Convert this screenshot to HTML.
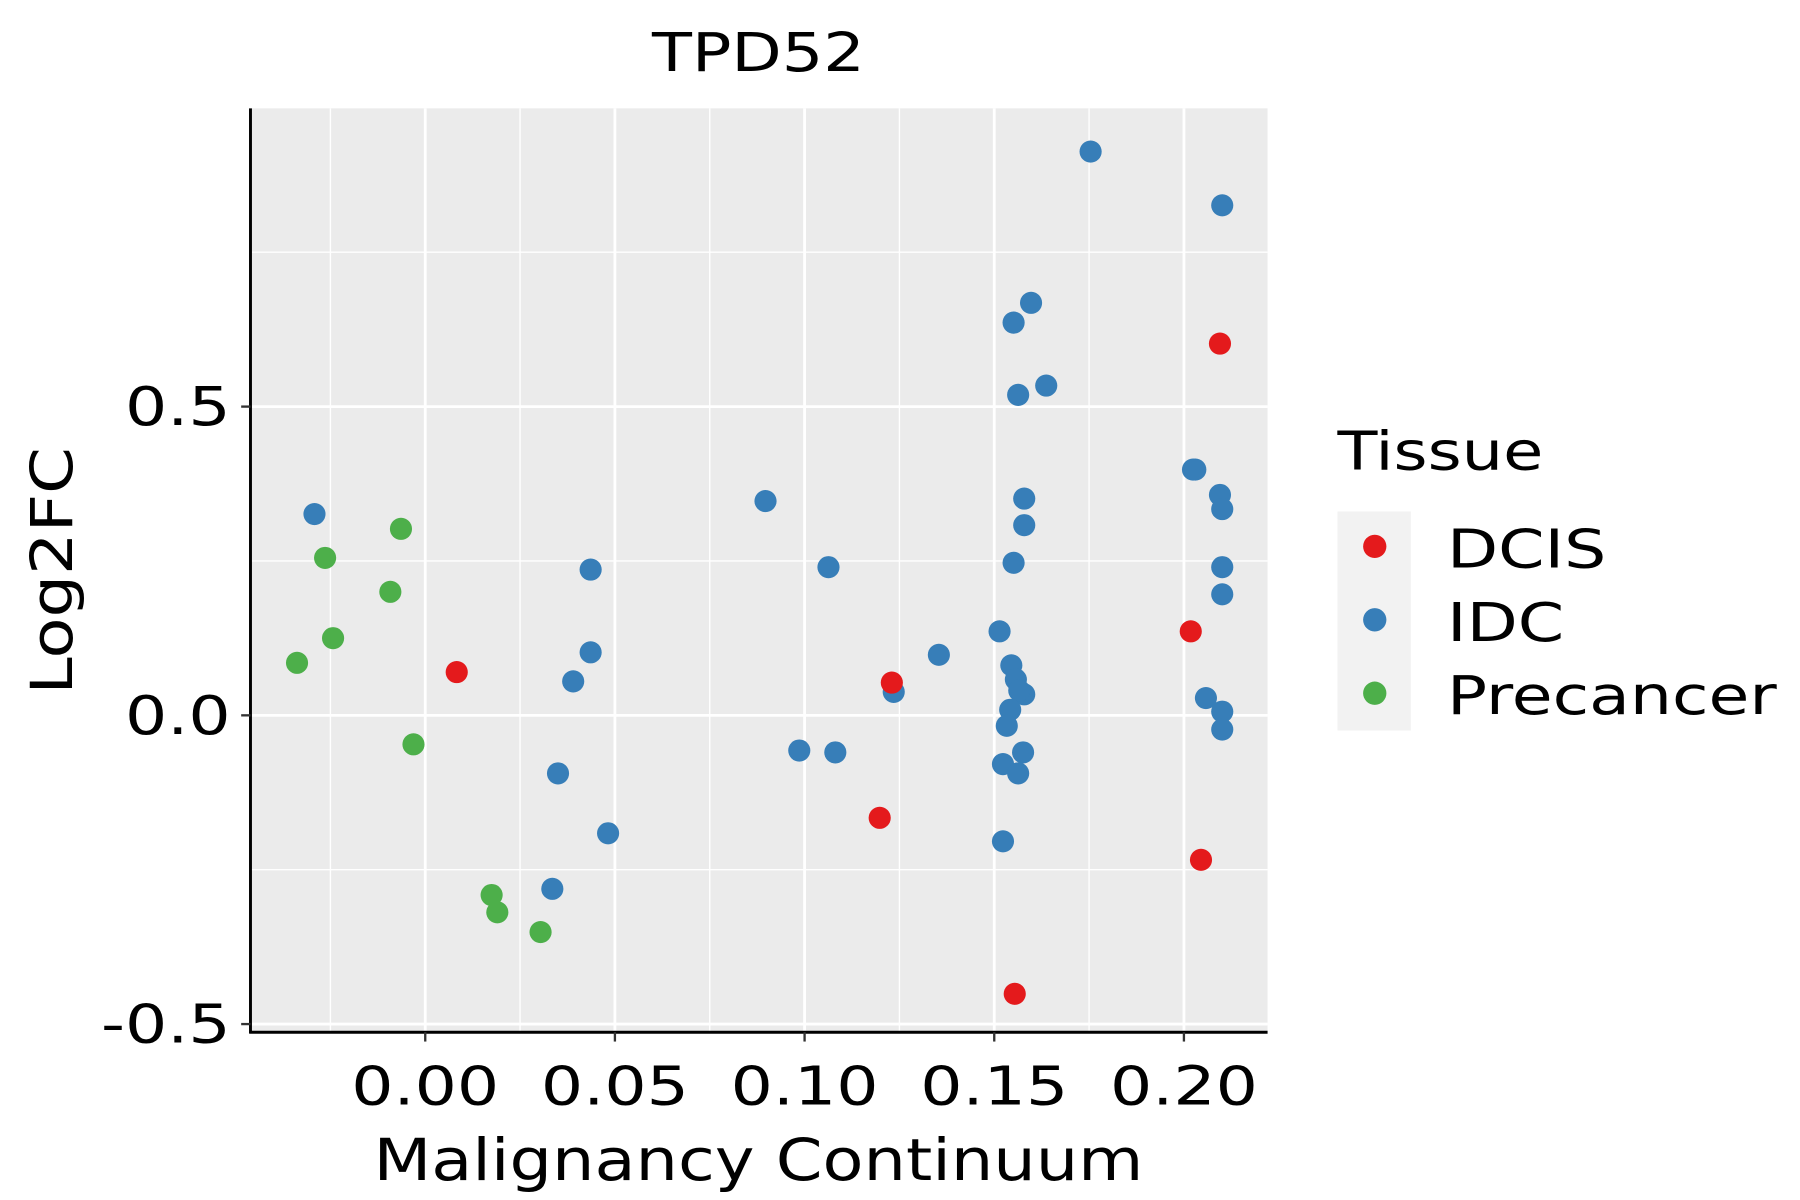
<!DOCTYPE html>
<html><head><meta charset="utf-8"><style>
html,body{margin:0;padding:0;background:#fff;}
svg{display:block;font-family:"DejaVu Sans","Liberation Sans",sans-serif;}
</style></head><body>
<svg id="chart" width="1800" height="1200" viewBox="0 0 1545 1030" preserveAspectRatio="none">
<rect x="0" y="0" width="1545" height="1030" fill="#fff"/>
<rect x="215" y="93" width="873" height="793" fill="#ebebeb"/>
<g id="grid"></g>
<g id="points"></g>
<line x1="215" y1="93" x2="215" y2="887" stroke="#000" stroke-width="2.5"/>
<line x1="214" y1="886" x2="1088" y2="886" stroke="#000" stroke-width="2.5"/>
<g id="ticks"></g>
<text transform="translate(651,61) scale(1.22,1)" font-size="46" text-anchor="middle">TPD52</text>
<text transform="translate(651,1013) scale(1.15,1)" font-size="50" text-anchor="middle">Malignancy Continuum</text>
<text transform="translate(62,490) rotate(-90) scale(1.15,1)" font-size="50" text-anchor="middle">Log2FC</text>
<g>
<text transform="translate(1148,403) scale(1.22,1)" font-size="46">Tissue</text>
<rect x="1148" y="439" width="63" height="188" fill="#f2f2f2"/>
<g id="legend-entries"></g>
</g>
</svg>
<script>
const xTicks=[0,0.05,0.10,0.15,0.20];
const xTickLabels=["0.00","0.05","0.10","0.15","0.20"];
const yTicks=[-0.5,0,0.5];
const yTickLabels=["-0.5","0.0","0.5"];
const groups=["DCIS","IDC","Precancer"];
const colors=["#e41a1c","#377eb8","#4daf4a"];
const dcisX=[0.0083,0.123,0.1198,0.2095,0.2018,0.2045,0.1554];
const dcisY=[0.070,0.053,-0.166,0.602,0.136,-0.234,-0.451];
const preX=[-0.0338,-0.0264,-0.0243,-0.0092,-0.0064,-0.0031,0.0175,0.0190,0.0304];
const preY=[0.085,0.255,0.125,0.200,0.302,-0.047,-0.291,-0.319,-0.351];
const idcX=[-0.0292,0.0436,0.0436,0.039,0.035,0.0482,0.0335,0.0897,0.1063,0.0986,0.1081,0.1235,0.1354,0.1754,0.2101,0.1597,0.1551,0.1637,0.1563,0.2024,0.203,0.1579,0.1579,0.1551,0.1514,0.1545,0.1557,0.1579,0.1566,0.1542,0.1533,0.1523,0.1576,0.1563,0.1523,0.2095,0.2101,0.2101,0.2101,0.2058,0.2101,0.2101];
const idcY=[0.326,0.236,0.102,0.055,-0.094,-0.191,-0.281,0.347,0.240,-0.057,-0.060,0.038,0.098,0.913,0.826,0.668,0.636,0.534,0.519,0.398,0.398,0.351,0.308,0.247,0.136,0.081,0.058,0.034,0.040,0.009,-0.017,-0.079,-0.060,-0.094,-0.204,0.357,0.334,0.240,0.196,0.028,0.006,-0.023];

const NS="http://www.w3.org/2000/svg";
function sx(v){return 365+v*3256;}
function sy(v){return 614-v*530;}
function mk(tag,attrs,parent){const e=document.createElementNS(NS,tag);for(const k in attrs)e.setAttribute(k,attrs[k]);parent.appendChild(e);return e;}
const grid=document.getElementById('grid'),ticks=document.getElementById('ticks');
for(let i=0;i<xTicks.length;i++){
  const m=xTicks[i]-0.025;
  const l=mk('line',{x1:sx(m),x2:sx(m),y1:93,y2:886,stroke:'#fff','stroke-width':1.2},grid);
  
  
}
for(let i=0;i<yTicks.length;i++){
  const m=yTicks[i]+0.25;
  const l=mk('line',{x1:215,x2:1088,y1:sy(m),y2:sy(m),stroke:'#fff','stroke-width':1.2},grid);
  
  
}
xTicks.forEach((t,i)=>{
  const l=mk('line',{x1:sx(t),x2:sx(t),y1:93,y2:886,stroke:'#fff','stroke-width':2.4},grid);
  
  
  const tk=mk('line',{x1:sx(t),x2:sx(t),y1:886,y2:894,stroke:'#333','stroke-width':2},ticks);
  
  
  const tx=mk('text',{transform:'translate('+sx(t)+',948) scale(1.24,1)','font-size':46,'text-anchor':'middle'},ticks);
  tx.textContent=xTickLabels[i];
  
  
});
yTicks.forEach((t,i)=>{
  const l=mk('line',{x1:215,x2:1088,y1:sy(t),y2:sy(t),stroke:'#fff','stroke-width':2.4},grid);
  
  
  const tk=mk('line',{x1:207,x2:215,y1:sy(t),y2:sy(t),stroke:'#333','stroke-width':2},ticks);
  
  
  const tx=mk('text',{transform:'translate(198,'+(sy(t)+16)+') scale(1.24,1)','font-size':46,'text-anchor':'end'},ticks);
  tx.textContent=yTickLabels[i];
  
  
});
const pts=document.getElementById('points');
function draw(xs,ys,col,name){
  for(let i=0;i<xs.length;i++){
    const c=mk('circle',{cx:sx(xs[i]),cy:sy(ys[i]),r:9.5,fill:col},pts);
    
    
  }
}
draw(preX,preY,colors[2],'point-precancer');
draw(idcX,idcY,colors[1],'point-idc');
draw(dcisX,dcisY,colors[0],'point-dcis');
const le=document.getElementById('legend-entries');
groups.forEach((g,i)=>{
  const y=469+i*63;
  const c=mk('circle',{cx:1180,cy:y,r:10,fill:colors[i]},le);
  
  
  const t=mk('text',{transform:'translate(1242,'+(y+18)+') scale(1.24,1)','font-size':46},le);
  t.textContent=g;
  
  
});
</script>
</body></html>
